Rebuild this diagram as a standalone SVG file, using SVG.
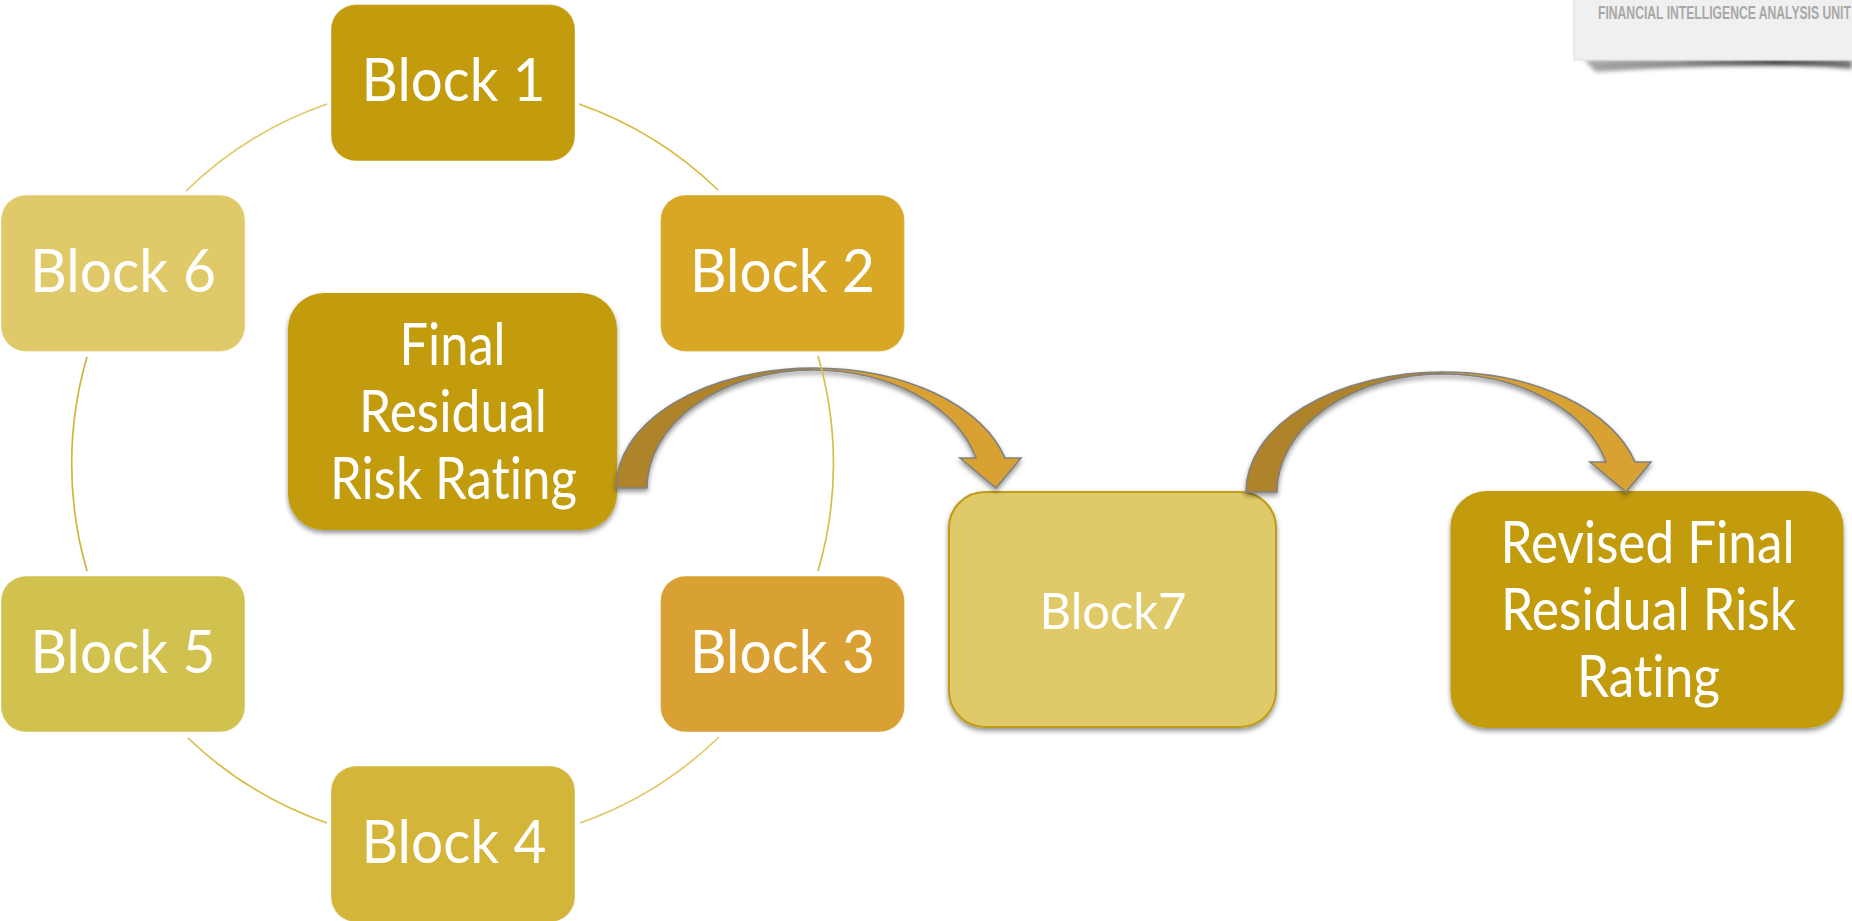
<svg xmlns="http://www.w3.org/2000/svg" width="1852" height="921" viewBox="0 0 1852 921">
<style>
text{font-family:"Lato","Carlito","Open Sans",sans-serif;fill:#fff;text-anchor:middle;font-variant-ligatures:none}
.b{font-size:60px}
.n{font-size:59px}
.f{font-size:51px}
.box{stroke:#fff;stroke-opacity:.3;stroke-width:1.3}
.arc{fill:none;stroke-width:1.7}
.ar{stroke:#808080;stroke-width:1.6;filter:url(#sh)}
</style>
<defs>
<filter id="sh" x="-10%" y="-10%" width="120%" height="125%"><feDropShadow dx="0" dy="3" stdDeviation="2.5" flood-color="#000" flood-opacity=".42"/></filter>
<filter id="bl" x="-5%" y="-50%" width="110%" height="200%"><feGaussianBlur stdDeviation="2.2"/></filter>
<linearGradient id="g1" x1="0" x2="1" y1="0" y2="0"><stop offset=".486" stop-color="#AF832B"/><stop offset=".486" stop-color="#D9A033"/></linearGradient>
<linearGradient id="gs" gradientUnits="userSpaceOnUse" x1="1580" x2="1852" y1="0" y2="0"><stop offset="0" stop-color="#aaa"/><stop offset=".35" stop-color="#888"/><stop offset=".72" stop-color="#222"/><stop offset="1" stop-color="#777"/></linearGradient>
</defs>
<rect width="1852" height="921" fill="#fff"/>
<g id="logo">
<path d="M1584,60H1852V69Q1770,60 1596,72Z" fill="url(#gs)" filter="url(#bl)"/>
<rect x="1574" y="-2" width="280" height="62" fill="#f0f0f0" stroke="#ddd" stroke-width="1"/>
<text transform="matrix(.84 0 0 1 1598 18.500)" x="0" y="0" textLength="301" lengthAdjust="spacingAndGlyphs" style="font-family:'Liberation Sans Narrow','Liberation Sans',sans-serif;font-weight:700;font-size:18.500px;fill:#a8a8a8;text-anchor:start">FINANCIAL INTELLIGENCE ANALYSIS UNIT</text>
</g>
<g id="block1"><rect class="box" x="331" y="4.500" width="244" height="156.500" rx="25" fill="#C39C0D"/><text class="b" x="453.500" y="101" textLength="184" lengthAdjust="spacingAndGlyphs">Block 1</text></g>
<g id="block2"><rect class="box" x="660.500" y="195" width="244" height="156.500" rx="25" fill="#D9A726"/><text class="b" x="782.500" y="292" textLength="185" lengthAdjust="spacingAndGlyphs">Block 2</text></g>
<g id="block3"><rect class="box" x="660.500" y="576" width="244" height="156" rx="25" fill="#D9A033"/><text class="b" x="782.500" y="673" textLength="185" lengthAdjust="spacingAndGlyphs">Block 3</text></g>
<g id="block4"><rect class="box" x="331" y="766" width="244" height="156" rx="25" fill="#D3B639"/><text class="b" x="454" y="863" textLength="185" lengthAdjust="spacingAndGlyphs">Block 4</text></g>
<g id="block5"><rect class="box" x="1" y="576" width="244" height="156" rx="25" fill="#D1C250"/><text class="b" x="123" y="673" textLength="185" lengthAdjust="spacingAndGlyphs">Block 5</text></g>
<g id="block6"><rect class="box" x="1" y="195" width="244" height="156.500" rx="25" fill="#E0C969"/><text class="b" x="123" y="292" textLength="186" lengthAdjust="spacingAndGlyphs">Block 6</text></g>
<g id="final"><rect x="288" y="293" width="329" height="237" rx="36" fill="#C39C0D" filter="url(#sh)"/>
<text class="n" x="452.500" y="365" textLength="106" lengthAdjust="spacingAndGlyphs">Final</text>
<text class="n" x="453" y="432" textLength="188" lengthAdjust="spacingAndGlyphs">Residual</text>
<text class="n" x="453.500" y="499" textLength="247" lengthAdjust="spacingAndGlyphs">Risk Rating</text></g>
<g id="block7"><rect x="949" y="492" width="327" height="235" rx="36" fill="#E0C969" stroke="#BF9B12" stroke-width="2" filter="url(#sh)"/><text class="f" x="1113" y="629" textLength="147" lengthAdjust="spacingAndGlyphs">Block7</text></g>
<g id="revised"><rect x="1450.500" y="491" width="393" height="237" rx="36" fill="#C39C0D" filter="url(#sh)"/>
<text class="n" x="1647.500" y="563" textLength="294" lengthAdjust="spacingAndGlyphs">Revised Final</text>
<text class="n" x="1648.500" y="630" textLength="295" lengthAdjust="spacingAndGlyphs">Residual Risk</text>
<text class="n" x="1648.500" y="697" textLength="143" lengthAdjust="spacingAndGlyphs">Rating</text></g>
<g id="connectors">
<path id="arrow1" class="ar" fill="url(#g1)" d="M616,488A197,120 0 0 1 813,368A198,120 0 0 1 1005,458H1021L996,488L960,458H976A168,118 0 0 0 813,370A166,118 0 0 0 647,488Z"/>
<path id="arrow2" class="ar" fill="url(#g1)" d="M1246,492A197,120 0 0 1 1443,372A198,120 0 0 1 1635,462H1651L1626,492L1590,462H1606A168,118 0 0 0 1443,374A166,118 0 0 0 1277,492Z"/>
<path class="arc" stroke="#D8B93F" d="M579,104A381,381 0 0 1 718,190"/>
<path class="arc" stroke="#D6BE4A" d="M818,356A381,381 0 0 1 818,571"/>
<path class="arc" stroke="#E0C969" d="M719,737A381,381 0 0 1 580,823"/>
<path class="arc" stroke="#D6BE4A" d="M327,823A381,381 0 0 1 188,738"/>
<path class="arc" stroke="#D3B33C" d="M87,571A381,381 0 0 1 87,357"/>
<path class="arc" stroke="#E0C969" d="M186,191A381,381 0 0 1 327,104"/>
</g>
</svg>
